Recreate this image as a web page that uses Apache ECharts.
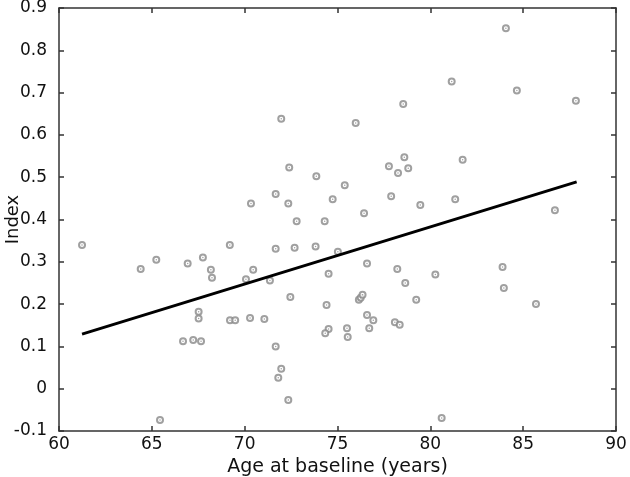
<!DOCTYPE html>
<html>
<head>
<meta charset="utf-8">
<script src="https://cdn.jsdelivr.net/npm/echarts@6/dist/echarts.min.js"></script>
<style>html,body{margin:0;padding:0;background:#fff}#c{width:630px;height:477px}</style>
</head>
<body>
<div id="c"></div>
<script>
const ageX = [61.24,64.40,65.24,65.44,66.93,67.75,68.18,68.24,67.52,67.52,66.68,67.23,67.65,69.20,69.21,69.49,70.07,70.46,70.29,71.06,71.36,71.67,72.69,72.46,71.67,71.81,71.97,72.35,71.97,72.40,71.67,70.34,72.35,72.80,73.86,73.82,74.31,74.74,75.02,75.39,75.98,74.52,74.41,74.52,74.34,75.51,75.55,76.15,76.25,76.35,76.43,76.59,76.59,76.93,76.71,77.77,77.89,78.26,78.60,78.81,78.54,78.22,78.65,78.09,78.35,79.24,79.46,80.27,80.61,81.15,81.34,81.74,83.89,83.96,84.07,84.66,85.69,86.71,87.84];
const indexY = [0.340,0.283,0.305,-0.074,0.296,0.310,0.281,0.262,0.182,0.166,0.112,0.115,0.112,0.340,0.162,0.162,0.259,0.281,0.167,0.165,0.256,0.331,0.333,0.217,0.100,0.026,0.047,-0.027,0.638,0.523,0.460,0.438,0.438,0.396,0.502,0.336,0.396,0.448,0.324,0.481,0.628,0.272,0.198,0.141,0.131,0.143,0.122,0.210,0.215,0.222,0.415,0.296,0.174,0.162,0.143,0.526,0.455,0.510,0.547,0.521,0.673,0.283,0.250,0.157,0.151,0.210,0.434,0.270,-0.069,0.726,0.448,0.541,0.288,0.238,0.852,0.705,0.200,0.422,0.681];
const fitX = [61.24, 87.88];
const fitY = [0.129, 0.489];

const points = ageX.map((x, i) => [x, indexY[i]]);
const fitLine = fitX.map((x, i) => [x, fitY[i]]);

const FONT = 'DejaVu Sans';
const axisLine = {show: true, onZero: false, lineStyle: {color: '#333', width: 1.5}};
const axisTick = {show: true, inside: true, length: 5, lineStyle: {color: '#333', width: 1.5}};

const chart = echarts.init(document.getElementById('c'), null, {renderer: 'canvas'});
chart.setOption({
  animation: false,
  backgroundColor: '#fff',
  grid: {left: 59, right: 14, top: 8, bottom: 46, containLabel: false, outerBoundsMode: 'none'},
  xAxis: [{
    type: 'value', min: 60, max: 90, interval: 5,
    axisLine, axisTick, splitLine: {show: false},
    axisLabel: {color: '#111', fontFamily: FONT, fontSize: 17, margin: 5},
    name: 'Age at baseline (years)', nameLocation: 'middle', nameGap: 27, nameMoveOverlap: false,
    nameTextStyle: {color: '#111', fontFamily: FONT, fontSize: 19, verticalAlign: 'top'}
  }, {
    type: 'value', min: 60, max: 90, interval: 5, position: 'top',
    axisLine, axisTick, splitLine: {show: false}, axisLabel: {show: false}
  }],
  yAxis: [{
    type: 'value', min: -0.1, max: 0.9, interval: 0.1,
    axisLine, axisTick, splitLine: {show: false},
    axisLabel: {color: '#111', fontFamily: FONT, fontSize: 17, margin: 12,
      formatter: v => (Math.round(v * 10) / 10).toString()},
    name: 'Index', nameLocation: 'middle', nameGap: 46, nameMoveOverlap: false,
    nameTextStyle: {color: '#111', fontFamily: FONT, fontSize: 18, verticalAlign: 'middle'}
  }, {
    type: 'value', min: -0.1, max: 0.9, interval: 0.1, position: 'right',
    axisLine, axisTick, splitLine: {show: false}, axisLabel: {show: false}
  }],
  series: [{
    type: 'scatter', data: points, symbol: 'emptyCircle', symbolSize: 6,
    itemStyle: {color: '#888', borderColor: '#777', borderWidth: 1}
  }, {
    type: 'scatter', data: points, symbol: 'circle', symbolSize: 1.5,
    itemStyle: {color: '#888'}, silent: true
  }, {
    type: 'line', data: fitLine, symbol: 'none',
    lineStyle: {color: '#000', width: 3}
  }]
});
</script>
</body>
</html>
